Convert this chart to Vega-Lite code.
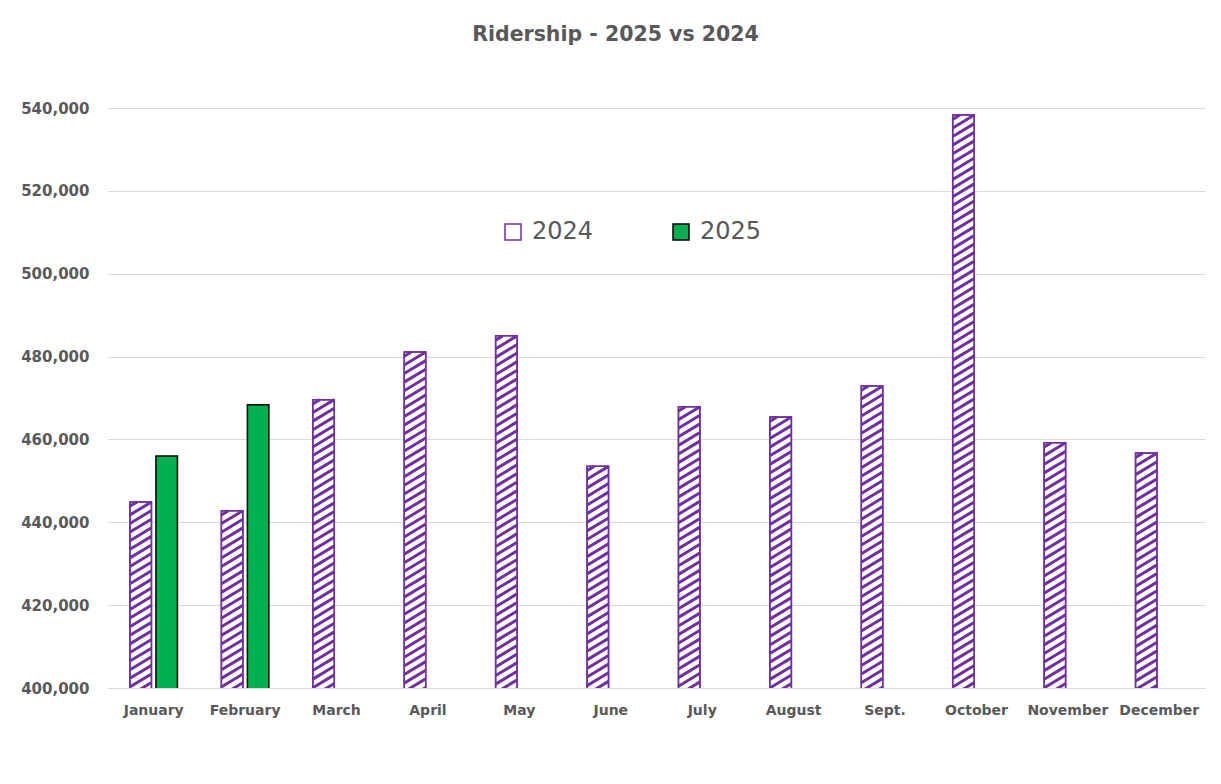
{
  "$schema": "https://vega.github.io/schema/vega-lite/v6.json",
  "width": 1097,
  "height": 580,
  "autosize": {"type": "none"},
  "padding": {"left": 108, "top": 108, "right": 16, "bottom": 96},
  "background": "white",
  "title": {
    "text": "Ridership - 2025 vs 2024",
    "font": "DejaVu Sans",
    "fontSize": 20.5,
    "fontWeight": "bold",
    "color": "#595959",
    "anchor": "middle",
    "frame": "group",
    "dx": -41,
    "offset": 56
  },
  "config": {
    "view": {"stroke": null},
    "axis": {
      "labelFont": "DejaVu Sans",
      "labelFontWeight": "bold",
      "labelFontSize": 14,
      "labelColor": "#595959"
    },
    "legend": {
      "labelFont": "DejaVu Sans"
    }
  },
  "data": {
    "values": [
      {"month": "January", "year": "2024", "riders": 444900},
      {"month": "January", "year": "2025", "riders": 456000},
      {"month": "February", "year": "2024", "riders": 442800},
      {"month": "February", "year": "2025", "riders": 468400},
      {"month": "March", "year": "2024", "riders": 469600},
      {"month": "April", "year": "2024", "riders": 481100},
      {"month": "May", "year": "2024", "riders": 485000},
      {"month": "June", "year": "2024", "riders": 453500},
      {"month": "July", "year": "2024", "riders": 467900},
      {"month": "August", "year": "2024", "riders": 465400},
      {"month": "Sept.", "year": "2024", "riders": 472900},
      {"month": "October", "year": "2024", "riders": 538300},
      {"month": "November", "year": "2024", "riders": 459200},
      {"month": "December", "year": "2024", "riders": 456700}
    ]
  },
  "encoding": {
    "x": {
      "field": "month",
      "type": "nominal",
      "sort": ["January", "February", "March", "April", "May", "June", "July", "August", "Sept.", "October", "November", "December"],
      "scale": {"paddingInner": 0.4804, "paddingOuter": 0.2402},
      "axis": {
        "title": null,
        "labelAngle": 0,
        "ticks": false,
        "domain": true,
        "domainColor": "#D9D9D9",
        "domainWidth": 1,
        "labelPadding": 15,
        "labelOverlap": false,
        "grid": false
      }
    },
    "xOffset": {
      "field": "year",
      "type": "nominal",
      "scale": {"domain": ["2024", "2025"], "paddingInner": 0.173, "paddingOuter": 0}
    },
    "y": {
      "field": "riders",
      "type": "quantitative",
      "scale": {"domain": [400000, 540000], "nice": false, "zero": false},
      "axis": {
        "title": null,
        "values": [400000, 420000, 440000, 460000, 480000, 500000, 520000, 540000],
        "format": ",.0f",
        "ticks": false,
        "domain": false,
        "grid": true,
        "gridColor": "#D9D9D9",
        "gridWidth": 1,
        "labelFontSize": 15,
        "labelPadding": 19
      }
    }
  },
  "layer": [
    {
      "mark": {"type": "bar", "strokeWidth": 1.5, "clip": true},
      "encoding": {
        "fill": {
          "field": "year",
          "type": "nominal",
          "scale": {"domain": ["2024", "2025"], "range": ["#FFFFFF", "#00B050"]},
          "legend": {
            "title": null,
            "orient": "none",
            "legendX": 393,
            "legendY": 112,
            "direction": "horizontal",
            "columns": 2,
            "columnPadding": 75,
            "symbolType": "square",
            "symbolSize": 256,
            "symbolStrokeWidth": 1.5,
            "labelFontSize": 24,
            "labelColor": "#595959",
            "labelOffset": 7,
            "padding": 0
          }
        },
        "stroke": {
          "field": "year",
          "type": "nominal",
          "scale": {"domain": ["2024", "2025"], "range": ["#7030A0", "#000000"]},
          "legend": {
            "title": null,
            "orient": "none",
            "legendX": 393,
            "legendY": 112,
            "direction": "horizontal",
            "columns": 2,
            "columnPadding": 75,
            "symbolType": "square",
            "symbolSize": 256,
            "symbolStrokeWidth": 1.5,
            "labelFontSize": 24,
            "labelColor": "#595959",
            "labelOffset": 7,
            "padding": 0
          }
        }
      }
    },
    {
      "transform": [{"filter": "datum.year == '2024'"}],
      "mark": {
        "type": "point",
        "filled": false,
        "fill": null,
        "stroke": "#7030A0",
        "strokeWidth": 3,
        "strokeCap": "butt",
        "opacity": 1,
        "size": 4,
        "clip": true,
        "shape": "M-10.75 4.3L-3.58 0M-10.75 12.9L10.75 0M-10.75 21.5L10.75 8.6M-10.75 30.1L10.75 17.2M-10.75 38.7L10.75 25.8M-10.75 47.3L10.75 34.4M-10.75 55.9L10.75 43M-10.75 64.5L10.75 51.6M-10.75 73.1L10.75 60.2M-10.75 81.7L10.75 68.8M-10.75 90.3L10.75 77.4M-10.75 98.9L10.75 86M-10.75 107.5L10.75 94.6M-10.75 116.1L10.75 103.2M-10.75 124.7L10.75 111.8M-10.75 133.3L10.75 120.4M-10.75 141.9L10.75 129M-10.75 150.5L10.75 137.6M-10.75 159.1L10.75 146.2M-10.75 167.7L10.75 154.8M-10.75 176.3L10.75 163.4M-10.75 184.9L10.75 172M-10.75 193.5L10.75 180.6M-10.75 202.1L10.75 189.2M-10.75 210.7L10.75 197.8M-10.75 219.3L10.75 206.4M-10.75 227.9L10.75 215M-10.75 236.5L10.75 223.6M-10.75 245.1L10.75 232.2M-10.75 253.7L10.75 240.8M-10.75 262.3L10.75 249.4M-10.75 270.9L10.75 258M-10.75 279.5L10.75 266.6M-10.75 288.1L10.75 275.2M-10.75 296.7L10.75 283.8M-10.75 305.3L10.75 292.4M-10.75 313.9L10.75 301M-10.75 322.5L10.75 309.6M-10.75 331.1L10.75 318.2M-10.75 339.7L10.75 326.8M-10.75 348.3L10.75 335.4M-10.75 356.9L10.75 344M-10.75 365.5L10.75 352.6M-10.75 374.1L10.75 361.2M-10.75 382.7L10.75 369.8M-10.75 391.3L10.75 378.4M-10.75 399.9L10.75 387M-10.75 408.5L10.75 395.6M-10.75 417.1L10.75 404.2M-10.75 425.7L10.75 412.8M-10.75 434.3L10.75 421.4M-10.75 442.9L10.75 430M-10.75 451.5L10.75 438.6M-10.75 460.1L10.75 447.2M-10.75 468.7L10.75 455.8M-10.75 477.3L10.75 464.4M-10.75 485.9L10.75 473M-10.75 494.5L10.75 481.6M-10.75 503.1L10.75 490.2M-10.75 511.7L10.75 498.8M-10.75 520.3L10.75 507.4M-10.75 528.9L10.75 516M-10.75 537.5L10.75 524.6M-10.75 546.1L10.75 533.2M-10.75 554.7L10.75 541.8M-10.75 563.3L10.75 550.4M-10.75 571.9L10.75 559M-10.75 580.5L10.75 567.6M-10.75 589.1L10.75 576.2M-10.75 597.7L10.75 584.8"
      },
      "encoding": {}
    },
    {
      "transform": [{"filter": "datum.year == '2024'"}],
      "mark": {"type": "bar", "fill": null, "fillOpacity": 0, "stroke": "#7030A0", "strokeWidth": 1.5, "clip": true},
      "encoding": {}
    }
  ]
}
